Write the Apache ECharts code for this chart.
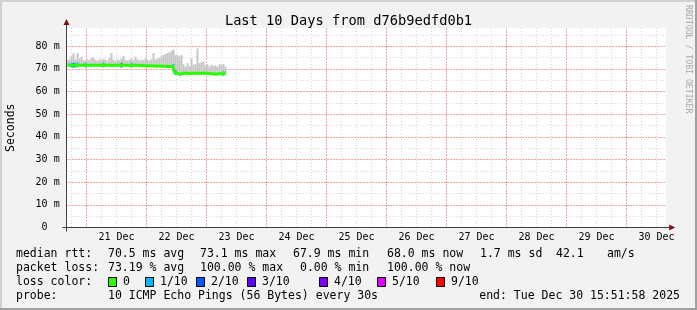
<!DOCTYPE html>
<html>
<head>
<meta charset="utf-8">
<script src="https://cdn.jsdelivr.net/npm/echarts@6/dist/echarts.min.js"></script>
<style>
  html, body { margin: 0; padding: 0; background: #f2f2f2; }
  #chart { width: 697px; height: 310px; }
</style>
</head>
<body>
<div id="chart"></div>
<script>
// time axis is in hours from 21 Dec 00:00, window ends Tue Dec 30 15:51:58
const xMin = -8.133;
const xMax = 231.867;
const binStart = -7.6;   // centre of first consolidated bin
const binHours = 0.8;

const dayLabels = ['21 Dec', '22 Dec', '23 Dec', '24 Dec', '25 Dec', '26 Dec', '27 Dec', '28 Dec', '29 Dec', '30 Dec'];
const dayLabelHours = [12, 36, 60, 84, 108, 132, 156, 180, 204, 228];
const dayStartHours = [0, 24, 48, 72, 96, 120, 144, 168, 192, 216];

const yTickValues = [0, 10, 20, 30, 40, 50, 60, 70, 80];
const yTickLabels = ['0  ', '10 m', '20 m', '30 m', '40 m', '50 m', '60 m', '70 m', '80 m'];
const yMinorValues = [5, 15, 25, 35, 45, 55, 65, 75, 85];

// median rtt (ms) per bin
const medianRtt = [
  71.7, 71.6, 71.6, 71.5, 71.6, 71.7, 71.6, 71.6, 71.5, 71.6,
  71.6, 71.7, 71.6, 71.6, 71.5, 71.6, 71.6, 71.6, 71.7, 71.6,
  71.6, 71.6, 71.5, 71.6, 71.6, 71.6, 71.7, 71.6, 71.6, 71.6,
  71.6, 71.5, 71.6, 71.6, 71.6, 71.6, 71.5, 71.5, 71.4, 71.4,
  71.3, 71.3, 71.3, 71.2, 71.2, 71.2, 71.2, 71.1, 71.1, 71.1,
  71.0, 71.0, 71.0, 71.0,
  68.4,
  67.9, 67.6, 67.9, 68.0, 68.1, 68.0, 67.9, 68.0, 68.1, 68.0,
  68.0, 67.9, 68.0, 68.1, 68.0, 67.9, 67.9, 67.8, 67.7, 67.7,
  67.7, 67.8, 67.8, 67.9, 68.0
];
// upper edge of the smoke (ms) per bin
const smokeTop = [
  73.8, 74.2, 75.5, 76.8, 74.0, 77.0, 74.5, 75.3, 74.0, 73.6,
  74.2, 73.8, 74.8, 75.0, 74.0, 73.5, 74.3, 73.8, 74.5, 74.0,
  73.6, 74.8, 77.0, 74.0, 73.5, 74.2, 73.8, 74.6, 75.6, 74.0,
  73.6, 74.0, 74.5, 73.8, 75.4, 74.2, 73.6, 74.0, 73.8, 74.6,
  74.0, 73.5, 74.2, 77.0, 74.0, 74.5, 74.7, 75.5, 76.0, 76.5,
  77.0, 77.3, 77.8, 78.5,
  76.0,
  76.0, 75.5, 76.0, 72.0, 71.0, 72.5, 71.2, 74.5, 71.8, 72.0,
  79.0, 72.5, 73.0, 73.2, 71.5, 72.0, 71.0, 71.8, 71.2, 71.5,
  71.0, 72.0, 71.4, 72.2, 71.0
];
// lost pings out of 10 per bin
const lossTenths = [
  0, 0, 1, 2, 1, 1, 0, 0, 0, 1,
  0, 0, 0, 0, 0, 0, 0, 0, 1, 0,
  0, 0, 0, 0, 0, 0, 0, 2, 0, 0,
  0, 0, 1, 0, 0, 0, 0, 0, 0, 0,
  0, 0, 0, 0, 0, 0, 0, 0, 0, 0,
  0, 0, 0, 1,
  2,
  0, 0, 0, 0, 0, 0, 0, 0, 0, 0,
  0, 0, 0, 0, 0, 0, 0, 0, 0, 0,
  0, 0, 0, 1, 0
];

const lossLevels = ['0', '1/10', '2/10', '3/10', '4/10', '5/10', '9/10'];
const lossLevelTenths = [0, 1, 2, 3, 4, 5, 9];
const lossColors = ['#26ff00', '#00b8ff', '#0059ff', '#5e00ff', '#7e00ff', '#dd00ff', '#ff0000'];

const MONO = '"DejaVu Sans Mono", monospace';

function lossColor(t) {
  let c = lossColors[0];
  lossLevelTenths.forEach((lv, i) => { if (t >= lv) c = lossColors[i]; });
  return c;
}

const hours = medianRtt.map((_, i) => binStart + i * binHours);
const medianData = medianRtt.map((v, i) => [hours[i], v]);
const smokeData = smokeTop.map((v, i) => [hours[i], medianRtt[i] - 0.6, v]);
const lossData = [];
lossTenths.forEach((t, i) => {
  if (t > 0) lossData.push({ value: [hours[i], medianRtt[i]], itemStyle: { color: lossColor(t) } });
});

const minorHours = [];
for (let h = -6; h <= 228; h += 6) if (h % 24 !== 0) minorHours.push(h);

const chart = echarts.init(document.getElementById('chart'));

const dotted = (color, type) => ({ show: true, lineStyle: { color: color, width: 1, type: type } });

chart.setOption({
  animation: false,
  backgroundColor: '#f2f2f2',
  title: {
    text: 'Last 10 Days from d76b9edfd0b1',
    left: 'center',
    top: 9,
    textStyle: { fontFamily: MONO, fontSize: 13.7, fontWeight: 'normal', color: '#000' }
  },
  // left edge chosen so the day lines fall on pixel centres
  grid: {
    left: 66.17, top: 28, width: 600, height: 199.5,
    show: true, backgroundColor: '#ffffff', borderWidth: 0
  },
  xAxis: [
    {
      type: 'value', min: xMin, max: xMax, position: 'bottom',
      axisLine: { show: false },
      axisTick: { show: false, customValues: minorHours },
      axisLabel: { show: false },
      splitLine: dotted('#d4d4d4', [1, 2])
    },
    {
      type: 'value', min: xMin, max: xMax, position: 'bottom',
      axisLine: { show: false },
      axisTick: { show: false, customValues: dayStartHours },
      axisLabel: {
        customValues: dayLabelHours,
        formatter: v => dayLabels[dayLabelHours.indexOf(v)],
        fontFamily: MONO, fontSize: 10, color: '#000', margin: 5
      },
      splitLine: dotted('#f4a0a0', [2, 1])
    }
  ],
  yAxis: [
    {
      type: 'value', min: 0, max: 88, position: 'left',
      axisLine: { show: false },
      axisTick: { show: false, customValues: yMinorValues },
      axisLabel: { show: false },
      splitLine: dotted('#d4d4d4', [1, 2])
    },
    {
      type: 'value', min: 0, max: 88, position: 'left',
      axisLine: { show: false },
      axisTick: { show: false, customValues: yTickValues },
      axisLabel: {
        customValues: yTickValues,
        formatter: v => yTickLabels[yTickValues.indexOf(v)],
        fontFamily: MONO, fontSize: 10, color: '#000', margin: 6.5
      },
      splitLine: dotted('#f4a0a0', [2, 1])
    }
  ],
  series: [
    {
      type: 'custom', xAxisIndex: 1, yAxisIndex: 1, data: smokeData,
      encode: { x: 0, y: [1, 2] }, silent: true,
      renderItem: (params, api) => {
        const x = api.value(0);
        const lo = api.coord([x, api.value(1)]);
        const hi = api.coord([x, api.value(2)]);
        const w = api.size([binHours, 0])[0];
        return {
          type: 'rect',
          shape: { x: lo[0] - w / 2, y: hi[1], width: w, height: lo[1] - hi[1] },
          style: { fill: '#c6c6c6' }
        };
      }
    },
    {
      type: 'line', xAxisIndex: 1, yAxisIndex: 1, data: medianData,
      step: 'middle', showSymbol: false,
      lineStyle: { color: lossColors[0], width: 3 }
    },
    {
      type: 'scatter', xAxisIndex: 1, yAxisIndex: 1, data: lossData,
      symbol: 'rect', symbolSize: [2, 5]
    }
  ]
});

// frame, axis lines and legend block
const o = chart.convertToPixel({ xAxisIndex: 1, yAxisIndex: 1 }, [xMin, 0]);
const e = chart.convertToPixel({ xAxisIndex: 1, yAxisIndex: 1 }, [xMax, 88]);
const ax = Math.round(o[0]) + 0.5, ay = Math.round(o[1]) - 0.5;
const axisColor = '#404040', arrowColor = '#7f1010';

const txt = (s, x, y, extra) => Object.assign({
  type: 'text', x: x, y: y, z: 10,
  style: { text: s, font: '11.5px ' + MONO, fill: '#000', align: 'left', verticalAlign: 'middle' }
}, extra || {});

const legendRows = [
  { y: 254, items: [['median rtt:', 16], ['70.5 ms avg', 108], ['73.1 ms max', 200], ['67.9 ms min', 293], ['68.0 ms now', 387], ['1.7 ms sd', 480], ['42.1', 556], ['am/s', 607]] },
  { y: 268, items: [['packet loss:', 16], ['73.19 % avg', 108], ['100.00 % max', 200], ['0.00 % min', 300], ['100.00 % now', 387]] },
  { y: 282, items: [['loss color:', 16]] },
  { y: 296, items: [['probe:', 16], ['10 ICMP Echo Pings (56 Bytes) every 30s', 108]] }
];
const lossBoxX = [108, 145, 196, 247, 319, 377, 436];

const g = [
  { type: 'rect', shape: { x: 0, y: 0, width: 697, height: 2 }, style: { fill: '#d0d0d0' } },
  { type: 'rect', shape: { x: 0, y: 0, width: 2, height: 310 }, style: { fill: '#d0d0d0' } },
  { type: 'rect', shape: { x: 0, y: 308, width: 697, height: 2 }, style: { fill: '#a0a0a0' } },
  { type: 'rect', shape: { x: 695, y: 0, width: 2, height: 310 }, style: { fill: '#a0a0a0' } },
  { type: 'line', z: 5, shape: { x1: ax, y1: ay + 4, x2: ax, y2: e[1] - 4 }, style: { stroke: axisColor, lineWidth: 1 } },
  { type: 'line', z: 5, shape: { x1: ax - 4, y1: ay, x2: e[0] + 4, y2: ay }, style: { stroke: axisColor, lineWidth: 1 } },
  { type: 'polygon', z: 6, shape: { points: [[ax, e[1] - 9], [ax - 3, e[1] - 3], [ax + 3, e[1] - 3]] }, style: { fill: arrowColor } },
  { type: 'polygon', z: 6, shape: { points: [[e[0] + 9, ay], [e[0] + 3, ay - 3], [e[0] + 3, ay + 3]] }, style: { fill: arrowColor } },
  txt('Seconds', 11, (o[1] + e[1]) / 2, { rotation: Math.PI / 2, style: { text: 'Seconds', font: '11.5px ' + MONO, fill: '#000', align: 'center', verticalAlign: 'middle' } }),
  txt('RRDTOOL / TOBI OETIKER', 688, 5, { rotation: -Math.PI / 2, style: { text: 'RRDTOOL / TOBI OETIKER', font: '8.2px ' + MONO, fill: '#a8a8a8', align: 'left', verticalAlign: 'middle' } }),
  txt('end: Tue Dec 30 15:51:58 2025', 680, 296, { style: { text: 'end: Tue Dec 30 15:51:58 2025', font: '11.5px ' + MONO, fill: '#000', align: 'right', verticalAlign: 'middle' } })
];
legendRows.forEach(r => r.items.forEach(it => g.push(txt(it[0], it[1], r.y))));
lossLevels.forEach((lv, i) => {
  g.push({ type: 'rect', z: 10, shape: { x: lossBoxX[i] + 0.5, y: 277.5, width: 8, height: 9 }, style: { fill: lossColors[i], stroke: '#000', lineWidth: 1 } });
  g.push(txt(lv, lossBoxX[i] + 15, 282));
});

chart.setOption({ graphic: g });
</script>
</body>
</html>
